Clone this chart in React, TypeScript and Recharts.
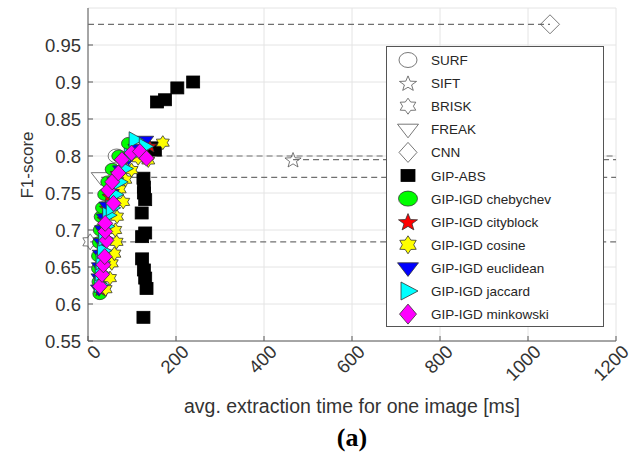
import React from 'react';
import { ScatterChart, Scatter, XAxis, YAxis, CartesianGrid } from 'recharts';

const xTicks = [0, 200, 400, 600, 800, 1000, 1200];
const yTicks = [0.55, 0.6, 0.65, 0.7, 0.75, 0.8, 0.85, 0.9, 0.95];

// single-point baselines
const surfX = [65];
const surfY = [0.8];
const siftX = [466];
const siftY = [0.795];
const briskX = [5];
const briskY = [0.684];
const freakX = [30];
const freakY = [0.771];
const cnnX = [1050];
const cnnY = [0.978];

// dashed guides for the baselines (SURF, SIFT, BRISK, FREAK, CNN)
const guideStart = [65, 466, 5, 30, 0];
const guideEnd = [1200, 1200, 1200, 1200, 1050];

const absX = [126, 133, 130, 127, 123, 123, 130, 122, 130, 127, 127, 126, 148, 152, 157, 175, 203, 239];
const absY = [0.582, 0.621, 0.635, 0.646, 0.661, 0.691, 0.696, 0.723, 0.741, 0.75, 0.758, 0.77, 0.811, 0.808, 0.873, 0.876, 0.892, 0.9];

const chebyX = [27, 25, 24, 24, 26, 28, 30, 33, 38, 45, 55, 70, 92];
const chebyY = [0.614, 0.63, 0.648, 0.665, 0.683, 0.7, 0.718, 0.73, 0.748, 0.765, 0.782, 0.8, 0.817];

const cityX = [28, 27, 27, 29, 31, 34, 37, 42, 48, 56, 66, 80, 100, 140];
const cityY = [0.62, 0.636, 0.652, 0.668, 0.685, 0.7, 0.715, 0.73, 0.746, 0.762, 0.777, 0.792, 0.805, 0.814];

const cosineX = [40, 50, 54, 60, 65, 62, 66, 80, 72, 85, 99, 114, 137, 170];
const cosineY = [0.62, 0.635, 0.655, 0.668, 0.684, 0.7, 0.718, 0.738, 0.755, 0.768, 0.781, 0.797, 0.794, 0.818];

const euclidX = [25, 26, 27, 29, 31, 34, 38, 44, 52, 62, 75, 92, 110, 130];
const euclidY = [0.62, 0.635, 0.65, 0.667, 0.683, 0.7, 0.716, 0.732, 0.749, 0.765, 0.781, 0.797, 0.81, 0.821];

const jaccardX = [28, 30, 32, 35, 38, 42, 47, 55, 62, 72, 84, 96, 107, 130];
const jaccardY = [0.626, 0.642, 0.657, 0.672, 0.689, 0.705, 0.72, 0.73, 0.748, 0.765, 0.783, 0.8, 0.822, 0.813];

const minkX = [27, 32, 35, 38, 42, 39, 39, 58, 46, 55, 69, 77, 99, 118, 133];
const minkY = [0.624, 0.64, 0.653, 0.664, 0.686, 0.698, 0.709, 0.736, 0.754, 0.765, 0.777, 0.795, 0.804, 0.806, 0.797];

const zip = (xs: number[], ys: number[]) => xs.map((x, i) => ({ x, y: ys[i] }));

type Kind = 'circle' | 'pentagram' | 'hexagram' | 'tdown' | 'tright' | 'diamond' | 'square';

interface Sty {
  kind: Kind;
  w: number;
  h: number;
  fill: string;
  stroke: string;
}

function starPoints(cx: number, cy: number, n: number, w: number, h: number, inner: number) {
  const pts: string[] = [];
  for (let i = 0; i < 2 * n; i++) {
    const a = -Math.PI / 2 + (i * Math.PI) / n;
    const k = i % 2 === 0 ? 1 : inner;
    pts.push(`${cx + w * k * Math.cos(a)},${cy + h * k * Math.sin(a)}`);
  }
  return pts.join(' ');
}

function Marker({ cx, cy, s }: { cx: number; cy: number; s: Sty }) {
  const common = { fill: s.fill, stroke: s.stroke, strokeWidth: 0.8 };
  const { w, h } = s;
  switch (s.kind) {
    case 'circle':
      return <ellipse cx={cx} cy={cy} rx={w} ry={h} {...common} />;
    case 'square':
      return <rect x={cx - w} y={cy - h} width={2 * w} height={2 * h} {...common} />;
    case 'diamond':
      return <polygon points={`${cx},${cy - h} ${cx + w},${cy} ${cx},${cy + h} ${cx - w},${cy}`} {...common} />;
    case 'tdown':
      return <polygon points={`${cx - w},${cy - h * 0.6} ${cx + w},${cy - h * 0.6} ${cx},${cy + h}`} {...common} />;
    case 'tright':
      return <polygon points={`${cx - w * 0.7},${cy - h} ${cx - w * 0.7},${cy + h} ${cx + w},${cy}`} {...common} />;
    case 'pentagram':
      return <polygon points={starPoints(cx, cy + h * 0.1, 5, w, h, 0.42)} {...common} />;
    case 'hexagram':
      return <polygon points={starPoints(cx, cy, 6, w, h, 0.6)} {...common} />;
  }
  return null;
}

const hollow = '#555555';
const edge = '#333333';

const series = [
  { name: 'SURF', data: zip(surfX, surfY), sty: { kind: 'circle', w: 8.5, h: 7, fill: 'none', stroke: hollow } },
  { name: 'SIFT', data: zip(siftX, siftY), sty: { kind: 'pentagram', w: 8.5, h: 8, fill: 'none', stroke: hollow } },
  { name: 'BRISK', data: zip(briskX, briskY), sty: { kind: 'hexagram', w: 8.5, h: 8, fill: 'none', stroke: hollow } },
  { name: 'FREAK', data: zip(freakX, freakY), sty: { kind: 'tdown', w: 10, h: 8, fill: 'none', stroke: hollow } },
  { name: 'CNN', data: zip(cnnX, cnnY), sty: { kind: 'diamond', w: 9.5, h: 9.5, fill: 'none', stroke: hollow } },
  { name: 'GIP-ABS', data: zip(absX, absY), sty: { kind: 'square', w: 6.5, h: 6, fill: '#000000', stroke: '#000000' } },
  { name: 'GIP-IGD chebychev', data: zip(chebyX, chebyY), sty: { kind: 'circle', w: 7, h: 6, fill: '#00ff00', stroke: edge } },
  { name: 'GIP-IGD cityblock', data: zip(cityX, cityY), sty: { kind: 'pentagram', w: 7.5, h: 7, fill: '#ff0000', stroke: edge } },
  { name: 'GIP-IGD cosine', data: zip(cosineX, cosineY), sty: { kind: 'hexagram', w: 7.5, h: 7, fill: '#ffff00', stroke: edge } },
  { name: 'GIP-IGD euclidean', data: zip(euclidX, euclidY), sty: { kind: 'tdown', w: 8.5, h: 7, fill: '#0000ff', stroke: edge } },
  { name: 'GIP-IGD jaccard', data: zip(jaccardX, jaccardY), sty: { kind: 'tright', w: 8.5, h: 8, fill: '#00ffff', stroke: edge } },
  { name: 'GIP-IGD minkowski', data: zip(minkX, minkY), sty: { kind: 'diamond', w: 7.5, h: 8, fill: '#ff00ff', stroke: edge } },
] as { name: string; data: { x: number; y: number }[]; sty: Sty }[];

const legendSty: Sty[] = [
  { kind: 'circle', w: 9, h: 7.5, fill: 'none', stroke: hollow },
  { kind: 'pentagram', w: 9, h: 8, fill: 'none', stroke: hollow },
  { kind: 'hexagram', w: 9, h: 8, fill: 'none', stroke: hollow },
  { kind: 'tdown', w: 10.5, h: 8.5, fill: 'none', stroke: hollow },
  { kind: 'diamond', w: 9, h: 10, fill: 'none', stroke: hollow },
  { kind: 'square', w: 7, h: 6, fill: '#000000', stroke: '#000000' },
  { kind: 'circle', w: 9.5, h: 7.5, fill: '#00ff00', stroke: edge },
  { kind: 'pentagram', w: 10, h: 9, fill: '#ff0000', stroke: edge },
  { kind: 'hexagram', w: 9.5, h: 9, fill: '#ffff00', stroke: edge },
  { kind: 'tdown', w: 10.5, h: 8.5, fill: '#0000ff', stroke: edge },
  { kind: 'tright', w: 10, h: 9, fill: '#00ffff', stroke: edge },
  { kind: 'diamond', w: 8.5, h: 10, fill: '#ff00ff', stroke: edge },
];

const baseY = [surfY[0], siftY[0], briskY[0], freakY[0], cnnY[0]];
const guides = guideStart.map((s, i) => [
  { x: s, y: baseY[i] },
  { x: guideEnd[i], y: baseY[i] },
]);

const font = '"Liberation Sans", Arial, Helvetica, sans-serif';
const axisColor = '#5a5a5a';
const textColor = '#333333';

function XTick(p: any) {
  const { x, y, payload } = p;
  const ax = x + 14;
  const ay = y + 12;
  return (
    <g>
      <line x1={x} y1={y} x2={x} y2={y - 5} stroke={axisColor} />
      <text x={ax} y={ay} transform={`rotate(-45 ${ax} ${ay})`} textAnchor="end" fontSize={18.5} fill={textColor} fontFamily={font}>
        {payload.value}
      </text>
    </g>
  );
}

function YTick(p: any) {
  const { x, y, payload } = p;
  return (
    <g>
      <line x1={x} y1={y} x2={x + 5} y2={y} stroke={axisColor} />
      <text x={x - 7} y={y + 6.5} textAnchor="end" fontSize={18.5} fill={textColor} fontFamily={font}>
        {payload.value}
      </text>
    </g>
  );
}

function Legend() {
  return (
    <svg width={218} height={281} style={{ position: 'absolute', left: 386, top: 46 }}>
      <rect x={0.5} y={0.5} width={217} height={280} fill="#ffffff" stroke="#555555" />
      {series.map((s, i) => {
        const cy = 14 + i * 23.1;
        return (
          <g key={s.name}>
            <Marker cx={22} cy={cy} s={legendSty[i]} />
            <text x={45} y={cy + 5} fontSize={13.5} fill="#262626" fontFamily={font}>
              {s.name}
            </text>
          </g>
        );
      })}
    </svg>
  );
}

export default function App() {
  return (
    <div style={{ position: 'absolute', left: 0, top: 0, width: 642, height: 452, background: '#ffffff', fontFamily: font }}>
      <ScatterChart width={642} height={452} margin={{ top: 8, right: 26, bottom: 0, left: 0 }}>
        <CartesianGrid stroke="#e4e4e4" strokeWidth={1} />
        <XAxis
          type="number"
          dataKey="x"
          domain={[0, 1200]}
          ticks={xTicks}
          height={111}
          tickSize={0}
          tickMargin={0}
          tickLine={false}
          axisLine={{ stroke: axisColor }}
          tick={<XTick />}
          interval={0}
        />
        <YAxis
          type="number"
          dataKey="y"
          domain={[0.55, 1.0]}
          ticks={yTicks}
          width={88}
          tickSize={0}
          tickMargin={0}
          tickLine={false}
          axisLine={{ stroke: axisColor }}
          tick={<YTick />}
          interval={0}
        />
        {guides.map((g, i) => (
          <Scatter
            key={'guide' + i}
            data={g}
            line={{ stroke: '#707070', strokeWidth: 1.2, strokeDasharray: '6 4' }}
            shape={() => <g />}
            isAnimationActive={false}
          />
        ))}
        {series.map((s) => (
          <Scatter
            key={s.name}
            name={s.name}
            data={s.data}
            isAnimationActive={false}
            shape={(p: any) => <Marker cx={p.cx} cy={p.cy} s={s.sty} />}
          />
        ))}
      </ScatterChart>
      <Legend />
      <svg width={642} height={452} style={{ position: 'absolute', left: 0, top: 0, pointerEvents: 'none' }}>
        <text x={27} y={165} transform="rotate(-90 27 165)" textAnchor="middle" dominantBaseline="central" fontSize={17} fill={textColor} fontFamily={font}>
          F1-score
        </text>
        <text x={352} y={413} textAnchor="middle" fontSize={19.5} fill={textColor} fontFamily={font}>
          avg. extraction time for one image [ms]
        </text>
        <text x={352} y={446} textAnchor="middle" fontSize={26} fontWeight="bold" fill="#000000" fontFamily='"Liberation Serif", "Times New Roman", serif'>
          (a)
        </text>
      </svg>
    </div>
  );
}
